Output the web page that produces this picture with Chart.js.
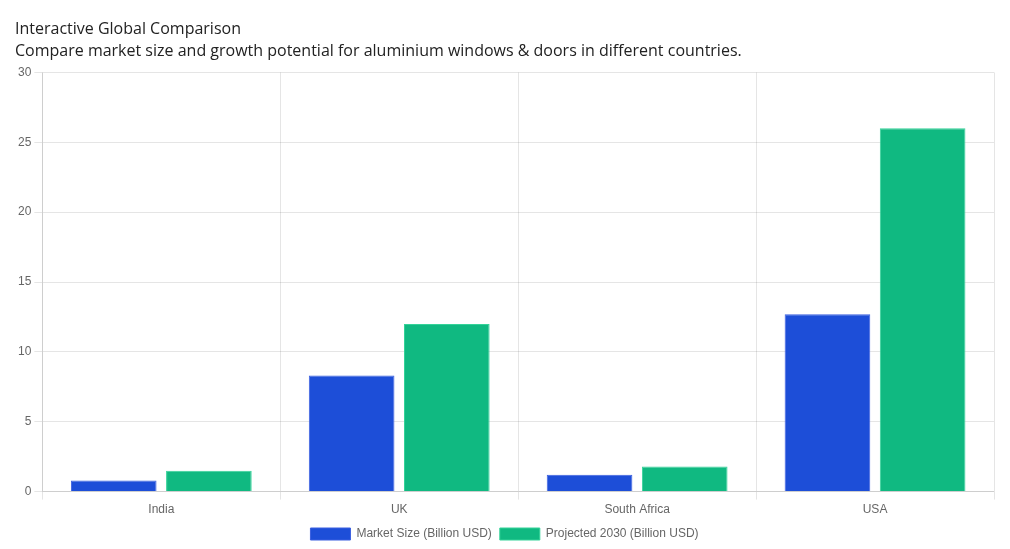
<!DOCTYPE html>
<html>
<head>
<meta charset="utf-8">
<script src="https://cdn.jsdelivr.net/npm/chart.js@4/dist/chart.umd.min.js"></script>
<style>
html,body{margin:0;padding:0;background:#fff;}
#wrap{width:1010px;height:549px;}
</style>
</head>
<body>
<div id="wrap"><canvas id="c" width="1010" height="549"></canvas></div>
<script>
const categories = ['India', 'UK', 'South Africa', 'USA'];
const marketSize = [0.8, 8.3, 1.2, 12.7];
const projected2030 = [1.5, 12, 1.8, 26];
const seriesNames = ['Market Size (Billion USD)', 'Projected 2030 (Billion USD)'];
const titleText = 'Interactive Global Comparison';
const subtitleText = 'Compare market size and growth potential for aluminium windows & doors in different countries.';

new Chart(document.getElementById('c'), {
  type: 'bar',
  data: {
    labels: categories,
    datasets: [
      { label: seriesNames[0], data: marketSize, backgroundColor: '#1d4ed8', borderColor: '#3b5fe0', borderWidth: 1 },
      { label: seriesNames[1], data: projected2030, backgroundColor: '#10b981', borderColor: '#34d399', borderWidth: 1 }
    ]
  },
  options: {
    responsive: false,
    animation: false,
    layout: { padding: { left: 15, right: 16, top: 0, bottom: -1 } },
    plugins: {
      title: { display: true, text: titleText, align: 'start', color: '#222',
        font: { family: '"Open Sans", sans-serif', size: 16, weight: 'normal' }, padding: { top: 20, bottom: 3 } },
      subtitle: { display: true, text: subtitleText, align: 'start', color: '#222',
        font: { family: '"Open Sans", sans-serif', size: 16, weight: 'normal' }, padding: { top: 0, bottom: 11 } },
      legend: { position: 'bottom', labels: { color: '#666', font: { size: 12 }, padding: 8 } },
      tooltip: { enabled: false }
    },
    scales: {
      x: { grid: { color: 'rgba(0,0,0,0.1)' }, ticks: { color: '#666', font: { size: 12 } } },
      y: { min: 0, max: 30, ticks: { stepSize: 5, color: '#666', font: { size: 12 } }, grid: { color: 'rgba(0,0,0,0.1)' } }
    }
  }
});
</script>
</body>
</html>
